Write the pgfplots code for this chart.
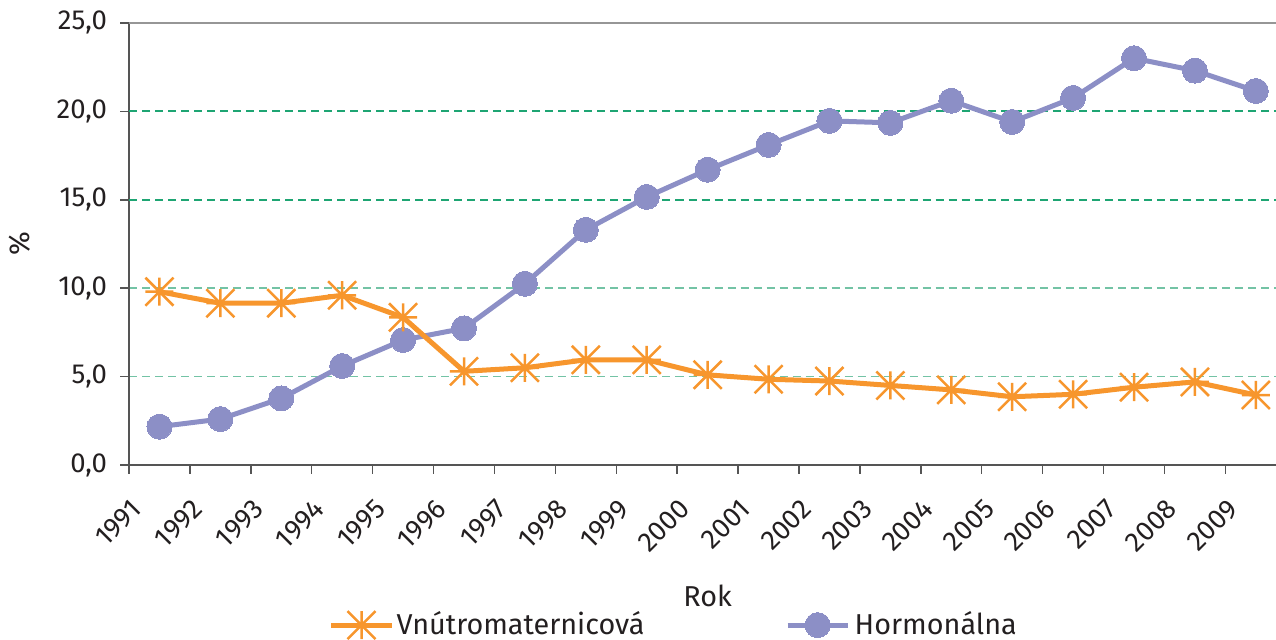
\documentclass[border=0pt]{standalone}
\usepackage{pgfplots}
\pgfplotsset{compat=1.18}
\usepackage{fontspec}
\setmainfont{Fira Sans}[Numbers=Proportional]
\definecolor{orng}{RGB}{247,150,45}
\definecolor{purp}{RGB}{140,143,198}
\definecolor{gridA}{RGB}{30,165,115}
\definecolor{gridB}{RGB}{115,195,165}
\definecolor{axgray}{RGB}{85,85,85}
\definecolor{topgray}{RGB}{150,150,150}
\definecolor{txt}{RGB}{35,31,32}
\pgfdeclareplotmark{xstar}{%
  \pgfpathmoveto{\pgfqpoint{0pt}{\pgfplotmarksize}}%
  \pgfpathlineto{\pgfqpoint{0pt}{-\pgfplotmarksize}}%
  \pgfpathmoveto{\pgfqpoint{\pgfplotmarksize}{\pgfplotmarksize}}%
  \pgfpathlineto{\pgfqpoint{-\pgfplotmarksize}{-\pgfplotmarksize}}%
  \pgfpathmoveto{\pgfqpoint{-\pgfplotmarksize}{\pgfplotmarksize}}%
  \pgfpathlineto{\pgfqpoint{\pgfplotmarksize}{-\pgfplotmarksize}}%
  \pgfpathmoveto{\pgfqpoint{\pgfplotmarksize}{0pt}}%
  \pgfpathlineto{\pgfqpoint{-\pgfplotmarksize}{0pt}}%
  \pgfusepathqstroke}

\pgfplotstableread{
x y
0 9.8
1 9.15
2 9.15
3 9.6
4 8.35
5 5.3
6 5.5
7 5.95
8 5.95
9 5.1
10 4.85
11 4.75
12 4.5
13 4.25
14 3.86
15 4.0
16 4.4
17 4.7
18 3.96
}\iud
\pgfplotstableread{
x y
0 2.17
1 2.6
2 3.77
3 5.6
4 7.07
5 7.73
6 10.25
7 13.3
8 15.16
9 16.7
10 18.1
11 19.46
12 19.35
13 20.6
14 19.4
15 20.76
16 23.0
17 22.3
18 21.15
}\horm

\begin{document}
\begin{tikzpicture}
\begin{axis}[
  at={(0,0)}, anchor=south west,
  scale only axis, width=462.5pt, height=176.7pt,
  xmin=-0.5, xmax=18.5, ymin=0, ymax=25,
  axis x line*=bottom, axis y line*=left,
  axis line style={axgray, line width=0.8pt, -},
  tick align=outside,
  xtick={0,...,18},
  xticklabels={1991,1992,1993,1994,1995,1996,1997,1998,1999,2000,2001,2002,2003,2004,2005,2006,2007,2008,2009},
  minor xtick={-0.5,0.5,...,18.5},
  major x tick style={draw=none},
  minor x tick style={axgray, line width=0.6pt},
  minor tick length=3.4pt,
  major tick length=3.6pt,
  ytick={0,5,10,25},
  extra y ticks={15,20},
  extra y tick style={grid=none},
  ymajorgrids=true,
  major grid style={gridB, line width=0.6pt, dash pattern=on 3.2pt off 2pt},
  y tick style={axgray, line width=0.6pt},
  /pgf/number format/assume math mode=true,
  /pgf/number format/.cd, fixed, fixed zerofill, precision=1, use comma, /pgfplots/.cd,
  yticklabel style={font=\fontsize{11}{12}\selectfont, text=txt, anchor=east, inner sep=0pt, xshift=-5pt},
  xticklabel style={font=\fontsize{11}{12}\selectfont, text=txt, xshift=-11.8pt, yshift=-9.2pt, rotate=45, anchor=north east, inner sep=0pt},
  ylabel={\%},
  ylabel style={at={(axis description cs:-0.0943,0.5)}, anchor=center, font=\fontsize{11.5}{13}\selectfont, text=txt},
  xlabel={Rok},
  xlabel style={at={(axis description cs:0.5,-0.2965)}, anchor=center, font=\fontsize{11.5}{13}\selectfont, text=txt},
  legend columns=2,
  reverse legend,
  legend style={draw=none, fill=none, at={(axis description cs:0.1728,-0.362)}, anchor=west, inner sep=0pt, outer sep=0pt, column sep=0pt, nodes={inner sep=0pt, text=txt, font=\fontsize{11.5}{13}\selectfont}},
  legend image code/.code={\draw[mark repeat=2,mark phase=2,#1] plot coordinates {(0pt,0pt) (12pt,0pt) (24pt,0pt)};},
]
\draw[gridA, line width=0.7pt, dash pattern=on 3.2pt off 2pt] (axis cs:-0.5,15) -- (axis cs:18.5,15);
\draw[gridA, line width=0.7pt, dash pattern=on 3.2pt off 2pt] (axis cs:-0.5,20) -- (axis cs:18.5,20);
\addplot[purp, line width=2pt, line join=round, mark=*, mark size=5pt, mark options={solid, fill=purp, draw=purp, line width=0pt}] table[x=x,y=y] {\horm};
\addlegendentry{\hspace{1.8pt}Hormonálna}
\addplot[orng, line width=2pt, line join=round, mark=xstar, mark size=5.6pt, mark options={solid, line width=1pt}] table[x=x,y=y] {\iud};
\addlegendentry{\makebox[156.3pt][l]{\hspace{1pt}Vnútromaternicová}}
\draw[topgray, line width=0.9pt] (rel axis cs:0,1) -- (rel axis cs:1,1);
\end{axis}
\pgfresetboundingbox
\path[use as bounding box] (-51.56pt,-69.54pt) rectangle (458.4pt,185.85pt);
\end{tikzpicture}
\end{document}
